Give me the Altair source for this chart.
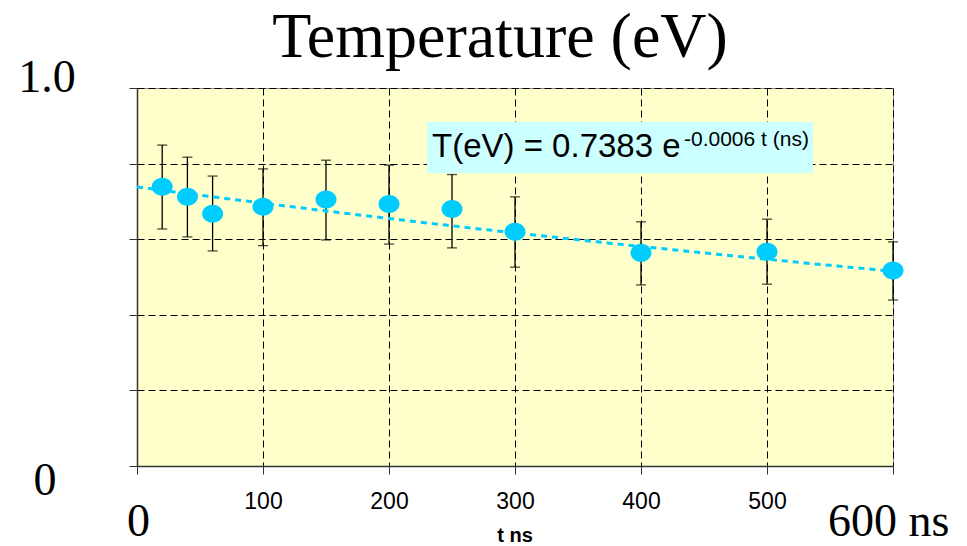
import altair as alt
import pandas as pd

# Measured electron temperature vs. time, with error bars
t_ns = [20, 40, 60, 100, 150, 200, 250, 300, 400, 500, 600]
temp_ev = [0.739, 0.712, 0.667, 0.686, 0.705, 0.693, 0.680, 0.620, 0.564, 0.567, 0.517]
temp_hi = [0.849, 0.817, 0.767, 0.786, 0.809, 0.796, 0.771, 0.712, 0.646, 0.653, 0.593]
temp_lo = [0.627, 0.606, 0.569, 0.583, 0.598, 0.587, 0.577, 0.526, 0.479, 0.481, 0.439]

# Axis tick positions
x_ticks = [0, 100, 200, 300, 400, 500, 600]
y_ticks = [0, 0.2, 0.4, 0.6, 0.8, 1.0]

# Exponential fit T = A * exp(k * t)
fit_a = 0.7383
fit_k = -0.0006

W, H = 756, 378
CYAN = "#00CCFF"
SERIF = "Liberation Serif"
SANS = "Liberation Sans"

df = pd.DataFrame({"t": t_ns, "T": temp_ev, "lo": temp_lo, "hi": temp_hi})

x_scale = alt.Scale(domain=[0, 600], nice=False, zero=False)
y_scale = alt.Scale(domain=[0, 1], nice=False)

x_axis = alt.Axis(
    values=x_ticks, title=None, grid=True,
    labelExpr="datum.value == 0 || datum.value == 600 ? '' : datum.label",
    labelFont=SANS, labelFontSize=23, labelColor="black",
    labelBaseline="alphabetic", labelPadding=34,
    domainColor="#333333", domainWidth=1.5,
    tickColor="#333333", tickSize=8, tickWidth=1,
    gridColor="black", gridDash=[7, 4], gridWidth=1, gridOpacity=1,
)
y_axis = alt.Axis(
    values=y_ticks, title=None, grid=True, labels=False,
    domainColor="#333333", domainWidth=1.5,
    tickColor="#333333", tickSize=8, tickWidth=1,
    gridColor="black", gridDash=[7, 4], gridWidth=1, gridOpacity=1,
)

base = alt.Chart(df)

bars = base.mark_rule(color="black", strokeWidth=1.3).encode(
    x=alt.X("t:Q", scale=x_scale, axis=x_axis),
    y=alt.Y("lo:Q", scale=y_scale, axis=y_axis),
    y2="hi:Q",
)
caps_hi = base.mark_tick(color="black", orient="horizontal", size=10, thickness=1.3).encode(
    x="t:Q", y="hi:Q"
)
caps_lo = base.mark_tick(color="black", orient="horizontal", size=10, thickness=1.3).encode(
    x="t:Q", y="lo:Q"
)

fit = (
    alt.Chart(alt.sequence(0, 601, 5, as_="t"))
    .transform_calculate(T=f"{fit_a} * exp({fit_k} * datum.t)")
    .mark_line(color=CYAN, strokeDash=[6, 5], strokeWidth=3)
    .encode(x="t:Q", y="T:Q")
)

ellipse = "M-1.05,0A1.05,0.9,0,1,0,1.05,0A1.05,0.9,0,1,0,-1.05,0Z"
points = base.mark_point(filled=True, shape=ellipse, size=400, color=CYAN, opacity=1).encode(
    x="t:Q", y="T:Q"
)

one = pd.DataFrame({"k": [0]})

eq_box = alt.Chart(one).mark_rect(color="#CCFFFF").encode(
    x=alt.value(290), x2=alt.value(676), y=alt.value(34), y2=alt.value(85)
)


def label(text, x, y, font, size, align="center", weight="normal"):
    return alt.Chart(one).mark_text(
        text=text, font=font, fontSize=size, align=align, baseline="alphabetic",
        fontWeight=weight, color="black",
    ).encode(x=alt.value(x), y=alt.value(y))


eq_main = label(f"T(eV) = {fit_a} e", 295, 69, SANS, 33, align="left")
eq_sup = label(f"{fit_k} t (ns)", 547, 58, SANS, 21, align="left")

title = label("Temperature (eV)", 363, -31, SERIF, 64)
y_top = label("1.0", -90, 4, SERIF, 46)
y_bot = label("0", -92, 407, SERIF, 46)
x_left = label("0", 1.5, 448, SERIF, 46)
x_right = label("600 ns", 691, 448, SERIF, 46, align="left")
x_title = label("t ns", 378, 454, SANS, 20, weight="bold")

chart = alt.layer(
    bars, eq_box, fit, caps_hi, caps_lo, points,
    eq_main, eq_sup, title, y_top, y_bot, x_left, x_right, x_title,
).properties(
    width=W, height=H,
    autosize=alt.AutoSizeParams(type="none"),
    padding={"left": 137, "top": 88, "right": 74, "bottom": 80},
    background="white",
).configure_view(
    fill="#FFFFCC", stroke="#8c8c8c", strokeWidth=1
)

chart.save("out.html", embed_options={"renderer": "svg", "actions": False})
